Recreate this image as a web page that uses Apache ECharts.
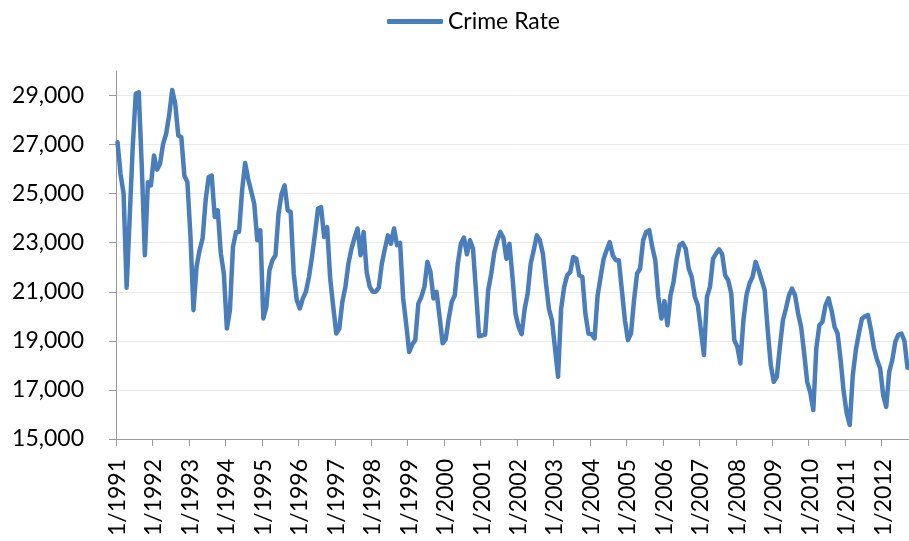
<!DOCTYPE html>
<html>
<head>
<meta charset="utf-8">
<script src="https://cdn.jsdelivr.net/npm/echarts@6/dist/echarts.min.js"></script>
<style>
  html, body { margin: 0; padding: 0; background: #fff; }
  #chart { width: 909px; height: 541px; }
</style>
</head>
<body>
<div id="chart"></div>
<script>
// Monthly crime counts, Jan 1991 - Sep 2012
const startYear = 1991;
const crime1991 = [27100, 25800, 25000, 21170, 24020, 26880, 29070, 29130, 26060, 22490, 25470, 25340];
const crime1992 = [26560, 25980, 26220, 27030, 27440, 28200, 29230, 28660, 27370, 27300, 25740, 25470];
const crime1993 = [23300, 20250, 22010, 22690, 23170, 24730, 25680, 25740, 24050, 24320, 22560, 21740];
const crime1994 = [19500, 20250, 22830, 23440, 23440, 25130, 26250, 25600, 25100, 24590, 23100, 23510];
const crime1995 = [19910, 20390, 21880, 22290, 22490, 24190, 25000, 25340, 24320, 24250, 21740, 20660];
const crime1996 = [20320, 20730, 21000, 21600, 22420, 23370, 24390, 24450, 23230, 23640, 21540, 20390];
const crime1997 = [19300, 19500, 20590, 21200, 22150, 22750, 23200, 23580, 22490, 23440, 21810, 21200];
const crime1998 = [21000, 21000, 21170, 22150, 22750, 23300, 22960, 23580, 22900, 22990, 20750, 19700];
const crime1999 = [18550, 18850, 19030, 20520, 20790, 21200, 22220, 21810, 20730, 21000, 19980, 18900];
const crime2000 = [19060, 19900, 20590, 20860, 22150, 22960, 23210, 22530, 23100, 22760, 21000, 19190];
const crime2001 = [19220, 19260, 21060, 21740, 22600, 23100, 23440, 23200, 22350, 22960, 21600, 20100];
const crime2002 = [19570, 19270, 20300, 20930, 22150, 22700, 23300, 23100, 22550, 21370, 20300, 19840];
const crime2003 = [18690, 17540, 20300, 21200, 21670, 21810, 22420, 22350, 21670, 21600, 20100, 19300];
const crime2004 = [19270, 19100, 20830, 21600, 22350, 22700, 23030, 22490, 22290, 22290, 21060, 19840];
const crime2005 = [19030, 19300, 20660, 21740, 21950, 23100, 23440, 23510, 22830, 22290, 20790, 19910];
const crime2006 = [20620, 19640, 20860, 21400, 22290, 22900, 22990, 22760, 21950, 21600, 20800, 20450];
const crime2007 = [19440, 18420, 20790, 21200, 22350, 22560, 22730, 22530, 21670, 21470, 20930, 19030];
const crime2008 = [18760, 18080, 19840, 20860, 21340, 21600, 22220, 21880, 21470, 21060, 19440, 18010];
const crime2009 = [17330, 17540, 18760, 19840, 20320, 20860, 21130, 20860, 20120, 19570, 18490, 17330];
const crime2010 = [16900, 16180, 18700, 19640, 19770, 20450, 20730, 20250, 19570, 19300, 18220, 16930];
const crime2011 = [16050, 15570, 17600, 18620, 19300, 19900, 20000, 20050, 19440, 18690, 18220, 17880];
const crime2012 = [16790, 16310, 17740, 18220, 18960, 19250, 19300, 19000, 17900];

const seriesName = 'Crime Rate';
const yTicks = [15000, 17000, 19000, 21000, 23000, 25000, 27000, 29000];
const yMin = 15000;
const yMax = 30000;

const crimeRate = [].concat(crime1991, crime1992, crime1993, crime1994, crime1995, crime1996,
  crime1997, crime1998, crime1999, crime2000, crime2001, crime2002, crime2003, crime2004,
  crime2005, crime2006, crime2007, crime2008, crime2009, crime2010, crime2011, crime2012);

// category labels "M/YYYY" for each month of the series
const categories = crimeRate.map((_, i) => ((i % 12) + 1) + '/' + (startYear + Math.floor(i / 12)));

const FONT = 'Lato, "Open Sans", "Liberation Sans", sans-serif';
const chart = echarts.init(document.getElementById('chart'), null, { renderer: 'canvas' });
const isJanuary = (index) => index % 12 === 0;

chart.setOption({
  animation: false,
  backgroundColor: '#ffffff',
  legend: {
    data: [seriesName],
    left: 382,
    top: 5,
    icon: 'roundRect',
    itemWidth: 56,
    itemHeight: 5,
    textStyle: { fontFamily: FONT, fontSize: 23, color: '#000000' }
  },
  grid: { left: 116, right: 0, top: 71, bottom: 102 },
  xAxis: {
    type: 'category',
    data: categories,
    boundaryGap: true,
    axisLine: { show: true, lineStyle: { color: '#9a9a9a', width: 1 } },
    axisTick: { show: true, interval: isJanuary, length: 7, lineStyle: { color: '#9a9a9a' } },
    axisLabel: {
      interval: isJanuary,
      rotate: 90,
      margin: 20,
      fontFamily: FONT,
      fontSize: 23,
      color: '#000000'
    },
    splitLine: { show: false }
  },
  yAxis: {
    type: 'value',
    min: yMin,
    max: yMax,
    axisLine: { show: true, lineStyle: { color: '#9a9a9a', width: 1 } },
    axisTick: { show: true, length: 7, customValues: yTicks, lineStyle: { color: '#9a9a9a' } },
    axisLabel: {
      customValues: yTicks,
      margin: 32,
      fontFamily: FONT,
      fontSize: 23,
      color: '#000000',
      formatter: (v) => v.toLocaleString('en-US')
    },
    splitLine: { show: true, lineStyle: { color: '#ebebeb', width: 1 } }
  },
  series: [{
    name: seriesName,
    type: 'line',
    data: crimeRate,
    symbol: 'none',
    smooth: false,
    clip: true,
    lineStyle: { color: '#4a7ebb', width: 4.5, cap: 'round', join: 'round' },
    itemStyle: { color: '#4a7ebb' }
  }]
});
</script>
</body>
</html>
